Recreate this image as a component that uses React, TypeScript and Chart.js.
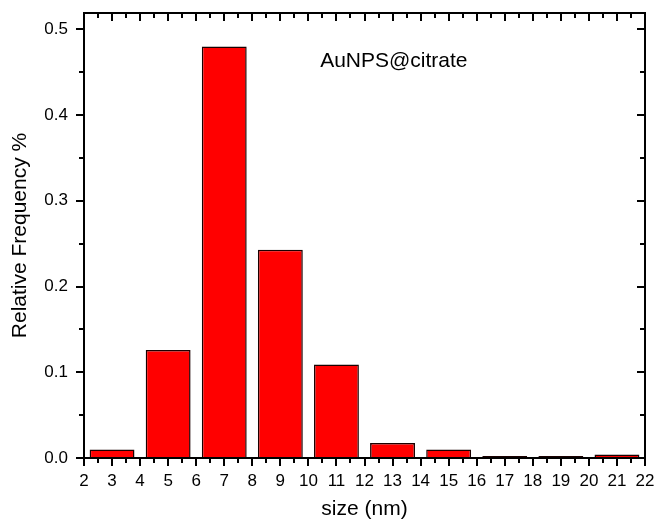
import React, { useEffect, useRef } from 'react';
import { Chart, registerables } from 'chart.js';

Chart.register(...registerables);

// ---- data ----
const binCenters = [3, 5, 7, 9, 11, 13, 15, 17, 19, 21];
const frequencies = [0.010, 0.126, 0.480, 0.243, 0.109, 0.0175, 0.010, 0.0023, 0.0023, 0.004];
const xTickValues = [2, 3, 4, 5, 6, 7, 8, 9, 10, 11, 12, 13, 14, 15, 16, 17, 18, 19, 20, 21, 22];
const yTickValues = [0, 0.1, 0.2, 0.3, 0.4, 0.5];
const xTitle = 'size (nm)';
const yTitle = 'Relative Frequency %';
const annotationText = 'AuNPS@citrate';
const annotationX = 10.42;
const annotationY = 0.456;

const X_MIN = 2;
const X_MAX = 22;
const Y_MIN = 0;
const Y_MAX = 0.519;

const FONT = "'Liberation Sans', Arial, Helvetica, sans-serif";

const frameTicksPlugin = {
  id: 'frameTicks',
  afterDraw(chart: any) {
    const { ctx, chartArea } = chart;
    const { left, right, top, bottom } = chartArea;
    const xs = chart.scales.x;
    const ys = chart.scales.y;
    ctx.save();
    ctx.strokeStyle = '#000';
    ctx.lineWidth = 2;
    ctx.lineCap = 'butt';
    ctx.beginPath();
    const xVals: { v: number; major: boolean }[] = [];
    xTickValues.forEach((v, i) => {
      xVals.push({ v, major: true });
      if (i < xTickValues.length - 1) xVals.push({ v: (v + xTickValues[i + 1]) / 2, major: false });
    });
    xVals.forEach(({ v, major }) => {
      const px = Math.round(xs.getPixelForValue(v));
      const len = major ? 8 : 5;
      ctx.moveTo(px, bottom);
      ctx.lineTo(px, bottom + len);
      ctx.moveTo(px, top);
      ctx.lineTo(px, top + len);
    });
    const yVals: { v: number; major: boolean }[] = [];
    yTickValues.forEach((v, i) => {
      yVals.push({ v, major: true });
      const next = i < yTickValues.length - 1 ? yTickValues[i + 1] : v + (v - yTickValues[i - 1]);
      const mid = (v + next) / 2;
      if (mid <= Y_MAX) yVals.push({ v: mid, major: false });
    });
    yVals.forEach(({ v, major }) => {
      const py = Math.round(ys.getPixelForValue(v));
      const len = major ? 8 : 5;
      ctx.moveTo(left - len, py);
      ctx.lineTo(left, py);
      ctx.moveTo(right - len, py);
      ctx.lineTo(right, py);
    });
    ctx.stroke();
    ctx.strokeRect(left, top, right - left, bottom - top);

    ctx.fillStyle = '#000';
    ctx.font = `21px ${FONT}`;
    ctx.textAlign = 'left';
    ctx.textBaseline = 'alphabetic';
    ctx.fillText(annotationText, xs.getPixelForValue(annotationX), ys.getPixelForValue(annotationY));
    ctx.restore();
  },
};

export default function App() {
  const canvasRef = useRef<HTMLCanvasElement | null>(null);

  useEffect(() => {
    const canvas = canvasRef.current;
    if (!canvas) return;
    const chart = new Chart(canvas, {
      type: 'bar',
      data: {
        datasets: [
          {
            data: binCenters.map((c, i) => ({ x: c, y: frequencies[i] })),
            xAxisID: 'xb',
            yAxisID: 'y',
            backgroundColor: '#ff0000',
            borderColor: '#1a0000',
            borderWidth: 1.5,
            categoryPercentage: 0.8,
            barPercentage: 1.0,
          } as any,
        ],
      },
      options: {
        responsive: false,
        animation: false,
        devicePixelRatio: 1,
        layout: { padding: { top: 13, right: 10, left: 0, bottom: 0 } },
        plugins: {
          legend: { display: false },
          tooltip: { enabled: false },
        },
        scales: {
          x: {
            type: 'linear',
            position: 'bottom',
            offset: false,
            min: X_MIN,
            max: X_MAX,
            afterBuildTicks: (scale: any) => {
              scale.ticks = xTickValues.map((v) => ({ value: v }));
            },
            afterFit: (scale: any) => {
              scale.height = 61;
              scale.paddingLeft = 0;
              scale.paddingRight = 0;
            },
            ticks: {
              color: '#000',
              font: { family: FONT, size: 17 },
              padding: 13,
              maxRotation: 0,
              autoSkip: false,
              callback: (v: any) => String(v),
            },
            grid: { display: false, drawTicks: false, offset: false },
            border: { display: false },
            title: {
              display: true,
              text: xTitle,
              color: '#000',
              font: { family: FONT, size: 21, lineHeight: 0.9 },
              padding: 0,
            },
          },
          xb: {
            type: 'linear',
            display: false,
            offset: false,
            grid: { offset: false },
            min: X_MIN,
            max: X_MAX,
            ticks: { stepSize: 2 },
          },
          y: {
            type: 'linear',
            position: 'left',
            min: Y_MIN,
            max: Y_MAX,
            afterBuildTicks: (scale: any) => {
              scale.ticks = yTickValues.map((v) => ({ value: v }));
            },
            afterFit: (scale: any) => {
              scale.width = 84;
              scale.paddingTop = 0;
              scale.paddingBottom = 0;
            },
            ticks: {
              color: '#000',
              font: { family: FONT, size: 17 },
              padding: 16,
              callback: (v: any) => Number(v).toFixed(1),
            },
            grid: { display: false, drawTicks: false },
            border: { display: false },
            title: {
              display: true,
              text: yTitle,
              color: '#000',
              font: { family: FONT, size: 21, lineHeight: 1 },
              padding: { top: 10, bottom: 0 },
            },
          },
        } as any,
      },
      plugins: [frameTicksPlugin],
    });
    return () => chart.destroy();
  }, []);

  return (
    <div style={{ position: 'fixed', left: 0, top: 0, width: 655, height: 519, background: '#fff' }}>
      <canvas ref={canvasRef} width={655} height={519} style={{ display: 'block' }} />
    </div>
  );
}
